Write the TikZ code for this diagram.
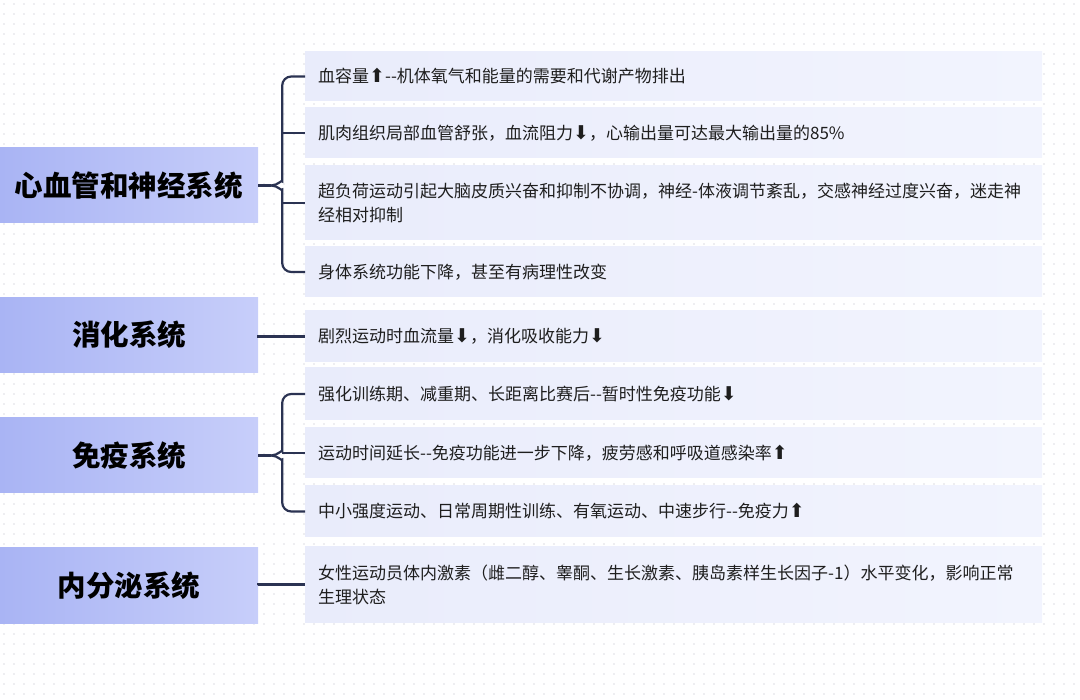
\documentclass[tikz,border=0pt]{standalone}
\usepackage{fontspec}
\setmainfont{Noto Sans CJK SC}
\newfontfamily\arrowfont{DejaVu Sans}
\newcommand{\upmark}{{\arrowfont\fontsize{19}{24}\selectfont ⬆}}
\newcommand{\downmark}{{\arrowfont\fontsize{19}{24}\selectfont ⬇}}
\definecolor{linkcol}{HTML}{2B3352}
\definecolor{dotcol}{HTML}{DCDDE2}
\definecolor{sysleft}{HTML}{A9B4F4}
\definecolor{sysright}{HTML}{C7CEFA}
\definecolor{itemleft}{HTML}{E9ECFB}
\definecolor{itemright}{HTML}{F2F4FE}
\definecolor{itemtext}{HTML}{1E1E1E}
\begin{document}
\begin{tikzpicture}[x=1pt,y=-1pt,
  sysbox/.style={rectangle,inner sep=0,minimum width=258,minimum height=75,left color=sysleft,right color=sysright,text=black,font=\fontsize{28.5}{32}\selectfont\bfseries},
  itembox/.style={rectangle,anchor=west,inner xsep=13,inner ysep=0,text width=711,align=left,left color=itemleft,right color=itemright,text=itemtext,font=\fontsize{17}{24}\selectfont},
  link/.style={draw=linkcol,line width=2.2}]
\useasboundingbox (0,0) rectangle (1080,700);
\foreach \j in {0,...,69} {\fill[dotcol] \foreach \i in {0,...,107} {(\i*10+4,\j*10+4) circle (0.8)};}
\node[sysbox] (cv) at (129,185.5) {心血管和神经系统};
\node[sysbox] (dg) at (129,335) {消化系统};
\node[sysbox] (im) at (129,455.5) {免疫系统};
\node[sysbox] (en) at (129,585.5) {内分泌系统};
\node[itembox,minimum height=49] (cv1) at (305,76.5) {血容量\upmark-{}-机体氧气和能量的需要和代谢产物排出};
\node[itembox,minimum height=50] (cv2) at (305,133) {肌肉组织局部血管舒张，血流阻力\downmark，心输出量可达最大输出量的85\%};
\node[itembox,minimum height=74] (cv3) at (305,203) {超负荷运动引起大脑皮质兴奋和抑制不协调，神经-体液调节紊乱，交感神经过度兴奋，迷走神\\经相对抑制};
\node[itembox,minimum height=50] (cv4) at (305,272) {身体系统功能下降，甚至有病理性改变};
\node[itembox,minimum height=51] (dg1) at (305,336.5) {剧烈运动时血流量\downmark，消化吸收能力\downmark};
\node[itembox,minimum height=52] (im1) at (305,394) {强化训练期、减重期、长距离比赛后-{}-暂时性免疫功能\downmark};
\node[itembox,minimum height=50] (im2) at (305,453) {运动时间延长-{}-免疫功能进一步下降，疲劳感和呼吸道感染率\upmark};
\node[itembox,minimum height=51] (im3) at (305,511.5) {中小强度运动、日常周期性训练、有氧运动、中速步行-{}-免疫力\upmark};
\node[itembox,minimum height=75] (en1) at (305,584.5) {女性运动员体内激素（雌二醇、睾酮、生长激素、胰岛素样生长因子-1）水平变化，影响正常\\生理状态};
\draw[link] (cv.east) -- ++(13,0) coordinate (cvtip) ++(11,0) coordinate (cvbar);
\draw[link,rounded corners=9] (cvtip) to[out=0,in=-90] ++(11,-13) |- (cv1.west);
\draw[link,rounded corners=9] (cvtip) to[out=0,in=90] ++(11,13) |- (cv4.west);
\draw[link] (cv2.west -| cvbar) -- (cv2.west);
\draw[link] (cv3.west -| cvbar) -- (cv3.west);
\draw[link] (dg.east) -- (dg1.west -| dg.east) -- (dg1.west);
\draw[link] (im.east) -- ++(13,0) coordinate (imtip) ++(11,0) coordinate (imbar);
\draw[link,rounded corners=9] (imtip) to[out=0,in=-90] ++(11,-13) |- (im1.west);
\draw[link,rounded corners=9] (imtip) to[out=0,in=90] ++(11,13) |- (im3.west);
\draw[link] (im2.west -| imbar) -- (im2.west);
\draw[link] (en.east) -- (en1.west -| en.east) -- (en1.west);
\end{tikzpicture}
\end{document}
